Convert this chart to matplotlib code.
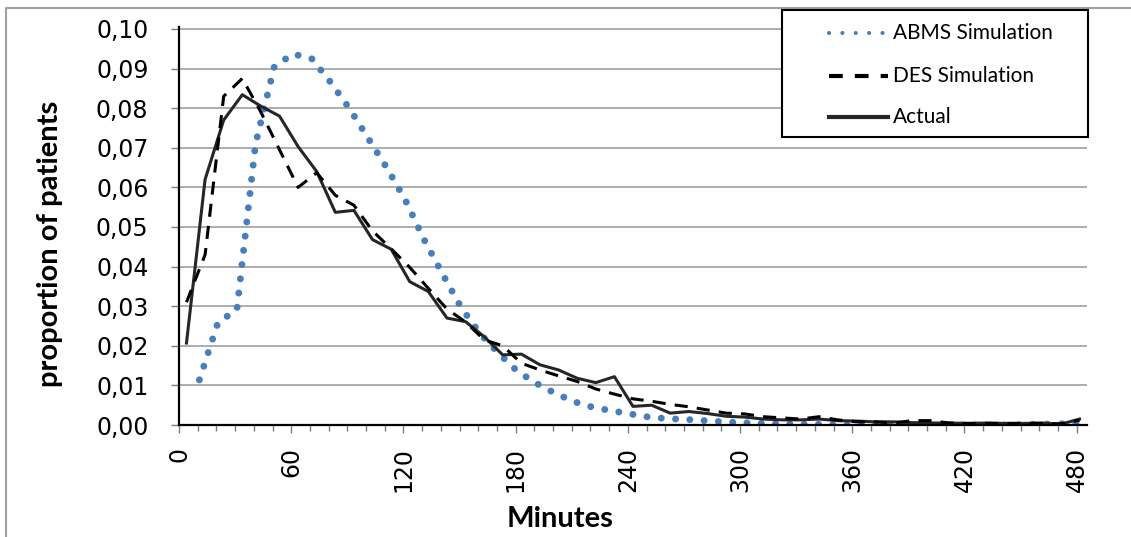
import numpy as np
import matplotlib
matplotlib.use("Agg")
import matplotlib.pyplot as plt
from matplotlib.lines import Line2D
from matplotlib.patches import Rectangle
from matplotlib.ticker import FuncFormatter, MultipleLocator

# --- datos ---
# minutos de cada punto (la serie ABMS esta desplazada medio intervalo)
min_real = np.linspace(4, 481.5, 49)
min_abms = np.linspace(10.9, 481.5, 48)

actual = [0.0207, 0.0620, 0.0770, 0.0834, 0.0805, 0.0780, 0.0703, 0.0640, 0.0537, 0.0542,
          0.0468, 0.0444, 0.0362, 0.0337, 0.0270, 0.0261, 0.0223, 0.0177, 0.0179, 0.0152,
          0.0139, 0.0118, 0.0107, 0.0122, 0.0047, 0.0050, 0.0030, 0.0034, 0.0029, 0.0022,
          0.0020, 0.0015, 0.0013, 0.0013, 0.0015, 0.0011, 0.0010, 0.0008, 0.0008, 0.0006,
          0.0005, 0.0005, 0.0004, 0.0005, 0.0004, 0.0004, 0.0005, 0.0002, 0.0015]

des = [0.0310, 0.0430, 0.0830, 0.0875, 0.0790, 0.0695, 0.0600, 0.0637, 0.0580, 0.0555,
       0.0490, 0.0445, 0.0398, 0.0345, 0.0293, 0.0260, 0.0215, 0.0200, 0.0156, 0.0139,
       0.0124, 0.0110, 0.0091, 0.0078, 0.0066, 0.0060, 0.0052, 0.0046, 0.0038, 0.0030,
       0.0028, 0.0021, 0.0018, 0.0015, 0.0021, 0.0013, 0.0008, 0.0008, 0.0005, 0.0011,
       0.0011, 0.0005, 0.0004, 0.0004, 0.0004, 0.0004, 0.0004, 0.0003, 0.0012]

abms = [0.0114, 0.0260, 0.0290, 0.0710, 0.0905, 0.0937, 0.0925, 0.0866, 0.0800, 0.0725,
        0.0650, 0.0568, 0.0468, 0.0380, 0.0295, 0.0230, 0.0180, 0.0135, 0.0105, 0.0080,
        0.0059, 0.0045, 0.0036, 0.0028, 0.0020, 0.0016, 0.0014, 0.0011, 0.0008, 0.0006,
        0.0004, 0.0003, 0.0002, 0.0002, 0.0001, 0.0000, 0.0000, 0.0000, 0.0000, 0.0000,
        0.0000, 0.0000, 0.0000, 0.0000, 0.0001, 0.0002, 0.0003, 0.0006]

etiquetas = ["ABMS Simulation", "DES Simulation", "Actual"]
azul = "#4a7ebb"

W, H = 1131, 537
def fx(x): return x / W
def fy(y): return 1 - y / H

fig = plt.figure(figsize=(W / 100, H / 100), dpi=100)
ax = fig.add_axes([fx(179), fy(425), fx(1087) - fx(179), (425 - 27) / H])

ax.plot(min_abms, abms, color=azul, lw=5, linestyle=(0, (0.01, 2.05)), dash_capstyle="round", zorder=3)
ax.plot(min_real, actual, color="#262626", lw=2.2, zorder=4)
ax.plot(min_real, des, color="black", lw=2.2, linestyle=(0, (4.3, 3)), zorder=5)

ax.set_xlim(0, 485.5)
ax.set_ylim(0, 0.1005)
ax.set_xticks(range(0, 481, 60))
ax.xaxis.set_minor_locator(MultipleLocator(10))
ax.set_yticks(np.arange(0, 0.101, 0.01))
ax.yaxis.set_major_formatter(FuncFormatter(lambda v, p: f"{v:.2f}".replace(".", ",")))

ax.grid(axis="y", color="#a0a0a0", lw=1.2)
ax.set_axisbelow(True)
for s in ["top", "right"]:
    ax.spines[s].set_visible(False)
for s in ["left", "bottom"]:
    ax.spines[s].set_linewidth(1.6)
    ax.spines[s].set_zorder(6)

ax.tick_params(axis="y", which="major", length=6, width=1, color="#7f7f7f",
               labelsize=17, pad=16)
ax.tick_params(axis="x", which="major", length=6, width=1, color="#7f7f7f",
               labelsize=17, pad=10, labelrotation=90)
ax.tick_params(axis="x", which="minor", length=4, width=1, color="#7f7f7f")

fig.text(fx(50), fy(244), "proportion of patients", rotation=90, ha="center", va="center",
         fontsize=21, fontweight="bold", family="Lato")
fig.text(fx(560), fy(519), "Minutes", ha="center", va="center",
         fontsize=21, fontweight="bold", family="Lato")

# borde del grafico
fig.add_artist(Line2D([fx(6), fx(6), 1.0], [0.0, fy(8), fy(8)], color="#a0a0a0", lw=1.5))

# leyenda
fig.add_artist(Rectangle((fx(782), fy(137)), fx(1088) - fx(782), (137 - 10) / H,
                         fill=True, facecolor="white", edgecolor="black", lw=1.5, zorder=10))
estilos = [dict(color=azul, lw=3, linestyle=(0, (0.01, 3.2)), dash_capstyle="round"),
           dict(color="black", lw=3, linestyle=(0, (3.3, 2.9))),
           dict(color="#262626", lw=3)]
for i, (lab, st) in enumerate(zip(etiquetas, estilos)):
    yy = [33, 76, 117][i]
    fig.add_artist(Line2D([fx(829), fx(888)], [fy(yy), fy(yy)], zorder=11, **st))
    fig.text(fx(893), fy(yy), lab, ha="left", va="center", fontsize=15, family="Lato", zorder=11)

fig.savefig("out.png", dpi=100)
